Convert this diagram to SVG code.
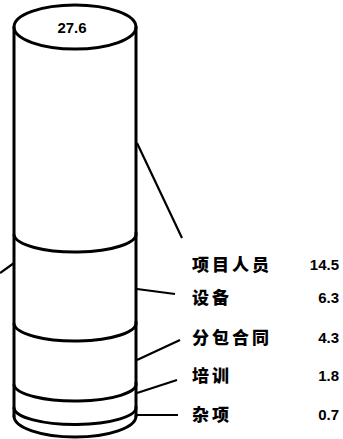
<svg xmlns="http://www.w3.org/2000/svg" width="343" height="439" viewBox="0 0 343 439">
<style>
.s{fill:none;stroke:#000;stroke-width:3;stroke-linecap:round}
.l{fill:none;stroke:#000;stroke-width:2.2}
.cn{font-family:"Noto Sans CJK SC",sans-serif;font-weight:900;font-size:17px;letter-spacing:3px;fill:#000;dominant-baseline:central}
.nm{font-family:"Liberation Sans",Arial,sans-serif;font-weight:700;font-size:15px;fill:#000;text-anchor:end;dominant-baseline:central}
</style>
<rect width="343" height="439" fill="#fff"/>
<g id="cylinder">
<path class="s" d="M14,27 L14,416 M136,27 L136,416"/>
<ellipse class="s" cx="75" cy="27" rx="61" ry="22" fill="#fff"/>
<path class="s" d="M14,416 A61,21 0 0 0 136,416"/>
<text x="72" y="27" style="font-family:'Liberation Sans',Arial,sans-serif;font-weight:700;font-size:15px;text-anchor:middle;dominant-baseline:central">27.6</text>
</g>
<g id="bands">
<path class="s" d="M14,235 A61,18 0 0 0 136,233"/>
<path class="s" d="M14,324 A61,18 0 0 0 136,322"/>
<path class="s" d="M14,385 A61,17 0 0 0 136,383"/>
<path class="s" d="M14,408 A61,17 0 0 0 136,407"/>
</g>
<g id="connectors">
<line class="l" x1="137" y1="143" x2="182" y2="238"/>
<line class="l" x1="137" y1="289" x2="175" y2="294"/>
<line class="l" x1="137" y1="360" x2="180" y2="340"/>
<line class="l" x1="137" y1="393" x2="177" y2="380"/>
<line class="l" x1="137" y1="415" x2="178" y2="415"/>
<line class="l" x1="14" y1="263" x2="0" y2="273"/>
</g>
<g id="label-staff"><text class="cn" x="192" y="263">项目人员</text><text class="nm" x="339" y="264">14.5</text></g>
<g id="label-equipment"><text class="cn" x="192" y="296">设备</text><text class="nm" x="339" y="297">6.3</text></g>
<g id="label-subcontract"><text class="cn" x="192" y="336">分包合同</text><text class="nm" x="339" y="337">4.3</text></g>
<g id="label-training"><text class="cn" x="192" y="374">培训</text><text class="nm" x="339" y="375">1.8</text></g>
<g id="label-misc"><text class="cn" x="192" y="413">杂项</text><text class="nm" x="339" y="414">0.7</text></g>
</svg>
